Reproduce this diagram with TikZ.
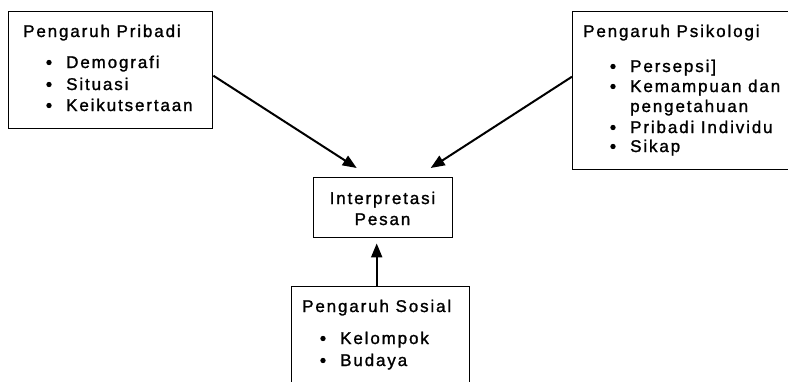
\documentclass[tikz,border=0pt]{standalone}
\usepackage{fontspec}
\setmainfont{Liberation Sans}[LetterSpace=11,FakeBold=1.3]
\usetikzlibrary{arrows.meta}
\begin{document}
\begin{tikzpicture}[x=1pt,y=-1pt,
  box/.style={draw,line width=1.4pt,inner sep=0pt,anchor=north west},
  lbl/.style={anchor=base west,inner sep=0pt,font=\fontsize{17}{20}\selectfont},
  arr/.style={line width=2pt,-{Triangle[length=14pt,width=11pt]}},
  dot/.style={fill=black}
]
\newcommand{\bulletline}[4]{%
  \fill[dot] (#2-17,#3-5.5) circle (2.7);
  \node[lbl] (#1) at (#2,#3) {#4};}
\clip (0,0) rectangle (788,381);
\fill[white] (0,0) rectangle (788,381);

% boxes
\node[box,minimum width=204pt,minimum height=117pt] (b1) at (8,11) {};
\node[box,minimum width=228pt,minimum height=158pt] (b2) at (572,11) {};
\node[box,minimum width=139pt,minimum height=60pt] (ib) at (313,177) {};
\node[box,minimum width=178pt,minimum height=114pt] (b4) at (291,286) {};

% Pengaruh Pribadi
\node[lbl] (t1) at (23,37) {Pengaruh Pribadi};
\bulletline{t1a}{66}{68}{Demografi}
\bulletline{t1b}{66}{90}{Situasi}
\bulletline{t1c}{66}{111}{Keikutsertaan}

% Pengaruh Psikologi
\node[lbl] (t2) at (583,37) {Pengaruh Psikologi};
\bulletline{t2a}{630}{72}{Persepsi]}
\bulletline{t2b}{630}{92}{Kemampuan dan}
\node[lbl] (t2c) at (630,112) {pengetahuan};
\bulletline{t2d}{630}{133}{Pribadi Individu}
\bulletline{t2e}{630}{152}{Sikap}

% Interpretasi Pesan
\node[lbl,anchor=base] (t3a) at (382.5,204) {Interpretasi};
\node[lbl,anchor=base] (t3b) at (382.5,225) {Pesan};

% Pengaruh Sosial
\node[lbl] (t4) at (302,312) {Pengaruh Sosial};
\bulletline{t4a}{340}{344}{Kelompok}
\bulletline{t4b}{340}{366}{Budaya}

% connectors
\draw[arr] ([yshift=-5.5pt]b1.east) -- ([xshift=-26.5pt,yshift=9pt]ib.north);
\draw[arr] ([yshift=14pt]b2.west) -- ([xshift=47.5pt,yshift=9pt]ib.north);
\draw[arr] ([xshift=-4pt]b4.north) -- ([xshift=-6.5pt,yshift=-5pt]ib.south);
\end{tikzpicture}
\end{document}
